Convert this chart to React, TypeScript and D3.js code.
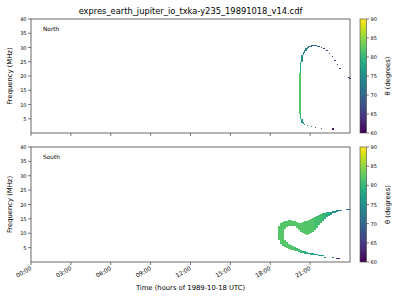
import React from 'react';
import * as d3 from 'd3';

const TITLE = 'expres_earth_jupiter_io_txka-y235_19891018_v14.cdf';
const X_TICKS = [0, 3, 6, 9, 12, 15, 18, 21];
const X_TICK_LABELS = ['00:00', '03:00', '06:00', '09:00', '12:00', '15:00', '18:00', '21:00'];
const Y_TICKS = [5, 10, 15, 20, 25, 30, 35, 40];
const CBAR_TICKS = [60, 65, 70, 75, 80, 85, 90];
const PANEL_NAMES = ['North', 'South'];

// [hour (left edge), fLow MHz, fHigh MHz, theta deg]
const NORTH_CELLS: number[][] = [
  [20.15, 6.5, 21.0, 82],
  [20.25, 4.8, 7.0, 79],
  [20.25, 7.0, 21.0, 82],
  [20.25, 21.0, 25.0, 78],
  [20.35, 25.0, 27.4, 75],
  [20.35, 3.6, 4.8, 76],
  [20.45, 27.2, 28.5, 74],
  [20.45, 3.1, 3.7, 75],
  [20.55, 28.2, 29.2, 73],
  [20.55, 2.8, 3.2, 74],
  [20.65, 28.9, 29.7, 73],
  [20.75, 29.4, 30.1, 72],
  [20.75, 2.5, 2.8, 74],
  [20.85, 29.8, 30.4, 72],
  [20.95, 30.1, 30.6, 72],
  [21.05, 30.3, 30.8, 71],
  [21.05, 2.1, 2.4, 73],
  [21.15, 30.4, 30.9, 71],
  [21.25, 30.5, 30.9, 71],
  [21.35, 30.5, 30.9, 70],
  [21.35, 1.9, 2.2, 72],
  [21.45, 30.4, 30.8, 70],
  [21.55, 30.3, 30.7, 69],
  [21.65, 30.1, 30.5, 68],
  [21.8, 29.7, 30.1, 67],
  [21.8, 1.6, 1.9, 71],
  [22.0, 29.3, 29.7, 67],
  [22.22, 28.8, 29.2, 66],
  [22.42, 27.8, 28.2, 66],
  [22.63, 26.6, 27.0, 65],
  [22.82, 25.2, 25.6, 65],
  [23.0, 23.9, 24.3, 65],
  [23.2, 22.5, 22.9, 65],
  [23.88, 19.2, 19.6, 64],
  [23.95, 18.8, 19.2, 64],
  [22.62, 1.2, 1.6, 61],
  [22.72, 1.2, 1.6, 61],
];

const SOUTH_CELLS: number[][] = [
  [18.6, 7.5, 12.5, 82],
  [18.75, 6.3, 13.4, 82],
  [18.9, 5.6, 14.0, 82],
  [19.05, 5.2, 7.8, 82], [19.05, 11.6, 14.3, 82],
  [19.2, 4.9, 6.8, 82], [19.2, 12.2, 14.4, 82],
  [19.35, 4.6, 6.3, 82], [19.35, 12.4, 14.5, 82],
  [19.5, 4.3, 6.0, 82], [19.5, 12.5, 14.5, 82],
  [19.65, 4.1, 5.6, 82], [19.65, 12.5, 14.4, 82],
  [19.8, 3.9, 5.2, 81], [19.8, 12.4, 14.1, 82],
  [19.95, 3.7, 4.9, 81], [19.95, 12.0, 13.8, 82],
  [20.1, 3.5, 4.6, 81], [20.1, 11.3, 13.6, 82],
  [20.25, 3.3, 4.3, 80], [20.25, 10.6, 13.6, 82],
  [20.4, 3.1, 4.0, 80], [20.4, 10.0, 13.8, 82],
  [20.55, 2.9, 3.7, 79], [20.55, 9.7, 14.1, 82],
  [20.7, 2.8, 3.5, 79], [20.7, 9.5, 14.4, 82],
  [20.85, 2.7, 3.3, 79], [20.85, 9.6, 14.7, 82],
  [21.0, 2.6, 3.1, 78], [21.0, 10.0, 15.0, 82],
  [21.15, 2.5, 3.0, 78], [21.15, 10.6, 15.4, 82],
  [21.3, 2.4, 2.8, 77], [21.3, 11.3, 15.7, 81],
  [21.45, 2.3, 2.7, 77], [21.45, 12.0, 16.0, 81],
  [21.6, 2.2, 2.6, 76], [21.6, 12.8, 16.3, 81],
  [21.75, 2.1, 2.5, 76], [21.75, 13.6, 16.6, 81],
  [21.9, 2.0, 2.3, 76], [21.9, 14.3, 16.9, 80],
  [22.05, 1.6, 1.9, 74], [22.05, 15.0, 17.1, 80],
  [22.2, 15.6, 17.3, 79],
  [22.35, 16.1, 17.4, 78],
  [22.5, 16.5, 17.5, 77],
  [22.65, 16.9, 17.6, 76], [22.65, 1.5, 1.8, 73],
  [22.8, 17.2, 17.8, 76],
  [22.95, 17.5, 18.0, 75], [22.95, 1.1, 1.5, 62],
  [23.1, 17.7, 18.1, 74], [23.1, 1.1, 1.5, 62],
  [23.25, 17.8, 18.2, 74],
  [23.7, 18.2, 18.6, 70],
  [23.85, 18.2, 18.6, 70],
];

const W = 400;
const H = 300;
const AX_L = 31;
const AX_R = 350;
const PANELS = [
  { top: 19, bottom: 133, cells: NORTH_CELLS, dt: 0.1, showX: false },
  { top: 147, bottom: 262, cells: SOUTH_CELLS, dt: 0.15, showX: true },
];
const CB_L = 360;
const CB_W = 6.5;
const FONT = 'DejaVu Sans, sans-serif';
const AXIS_COLOR = '#444';

export default function App() {
  const x = d3.scaleLinear().domain([0, 24]).range([AX_L, AX_R]);
  const color = d3.scaleSequential(d3.interpolateViridis).domain([60, 90]);
  const stops = d3.range(0, 1.0001, 0.05);

  return (
    <svg
      width={W}
      height={H}
      style={{ position: 'absolute', left: 0, top: 0, background: '#fff' }}
      fontFamily={FONT}
    >
      <defs>
        <linearGradient id="viridis" x1="0" y1="1" x2="0" y2="0">
          {stops.map((s, i) => (
            <stop key={i} offset={s} stopColor={d3.interpolateViridis(s)} />
          ))}
        </linearGradient>
      </defs>
      <rect width={W} height={H} fill="#fff" />
      <text x={(AX_L + AX_R) / 2} y={13.5} fontSize={8.3} textAnchor="middle" fill="#000">
        {TITLE}
      </text>
      {PANELS.map((p, pi) => {
        const y = d3.scaleLinear().domain([0, 40]).range([p.bottom, p.top]);
        const cb = d3.scaleLinear().domain([60, 90]).range([p.bottom, p.top]);
        const midY = (p.top + p.bottom) / 2;
        return (
          <g key={pi}>
            {p.cells.map((c, i) => {
              const x0 = x(c[0]);
              const x1 = x(c[0] + p.dt);
              return (
                <rect
                  key={i}
                  x={x0}
                  y={y(c[2])}
                  width={x1 - x0}
                  height={Math.max(1, y(c[1]) - y(c[2]))}
                  fill={color(c[3])}
                  shapeRendering="crispEdges"
                />
              );
            })}
            <rect
              x={AX_L}
              y={p.top}
              width={AX_R - AX_L}
              height={p.bottom - p.top}
              fill="none"
              stroke={AXIS_COLOR}
              strokeWidth={0.8}
            />
            {Y_TICKS.map((t) => (
              <g key={t}>
                <line x1={AX_L - 3} x2={AX_L} y1={y(t)} y2={y(t)} stroke={AXIS_COLOR} strokeWidth={0.7} />
                <text x={AX_L - 4.5} y={y(t)} fontSize={5} textAnchor="end" dominantBaseline="central" fill="#000">
                  {t}
                </text>
              </g>
            ))}
            {X_TICKS.map((t, i) => (
              <g key={t}>
                <line x1={x(t)} x2={x(t)} y1={p.bottom} y2={p.bottom + 3} stroke={AXIS_COLOR} strokeWidth={0.7} />
                {p.showX && (
                  <text
                    transform={`translate(${x(t) + 1},${p.bottom + 7.5}) rotate(-30)`}
                    fontSize={5.8}
                    textAnchor="end"
                    fill="#000"
                  >
                    {X_TICK_LABELS[i]}
                  </text>
                )}
              </g>
            ))}
            <text x={AX_L + 12} y={p.top + 12} fontSize={5.8} fill="#000">
              {PANEL_NAMES[pi]}
            </text>
            <text
              transform={`translate(12,${midY}) rotate(-90)`}
              fontSize={6.8}
              textAnchor="middle"
              fill="#000"
            >
              Frequency (MHz)
            </text>
            <rect x={CB_L} y={p.top} width={CB_W} height={p.bottom - p.top} fill="url(#viridis)" stroke={AXIS_COLOR} strokeWidth={0.6} />
            {CBAR_TICKS.map((t) => (
              <g key={t}>
                <line x1={CB_L + CB_W} x2={CB_L + CB_W + 2.5} y1={cb(t)} y2={cb(t)} stroke={AXIS_COLOR} strokeWidth={0.7} />
                <text x={CB_L + CB_W + 4} y={cb(t)} fontSize={5} dominantBaseline="central" fill="#000">
                  {t}
                </text>
              </g>
            ))}
            <text
              transform={`translate(390,${midY}) rotate(-90)`}
              fontSize={6.8}
              textAnchor="middle"
              fill="#000"
            >
              θ (degrees)
            </text>
          </g>
        );
      })}
      <text x={(AX_L + AX_R) / 2} y={290} fontSize={6.8} textAnchor="middle" fill="#000">
        Time (hours of 1989-10-18 UTC)
      </text>
    </svg>
  );
}
